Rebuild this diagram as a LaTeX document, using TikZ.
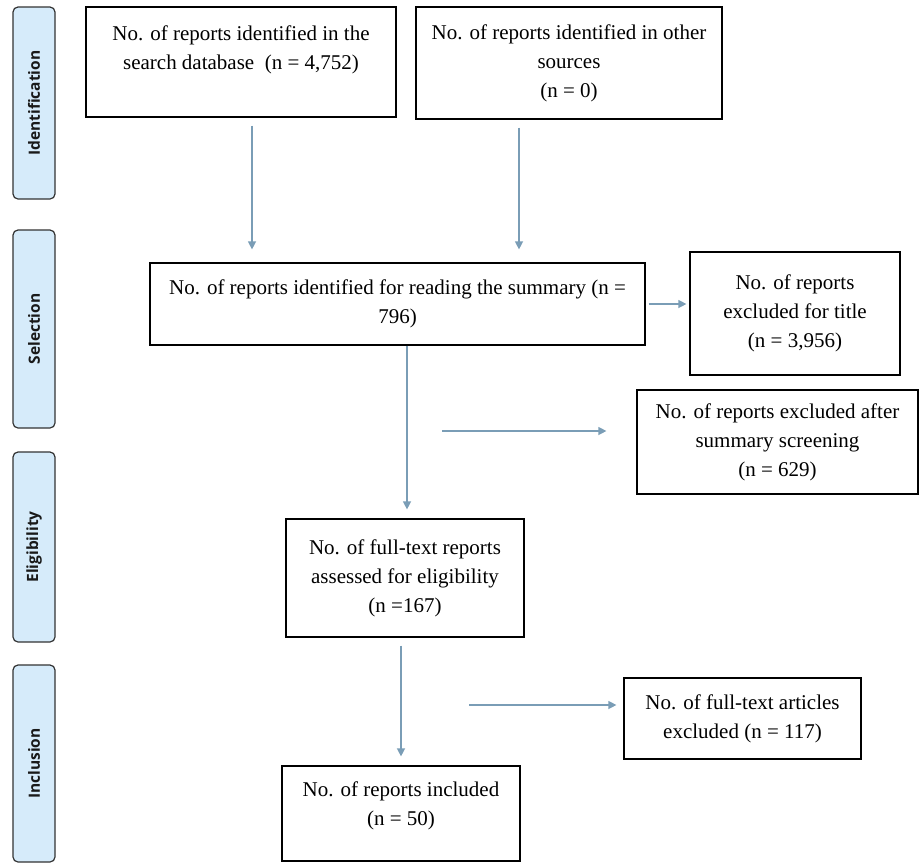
\documentclass[tikz,border=0pt]{standalone}
\usepackage{fontspec}
\setmainfont{Liberation Serif}
\newfontfamily\phasefont{Open Sans}
\usetikzlibrary{calc,arrows.meta}

\definecolor{phaseblue}{RGB}{214,235,250}
\definecolor{arrowgrey}{RGB}{122,157,182}

\begin{document}
\begin{tikzpicture}[x=1pt,y=-1pt,
  box/.style={draw=black,line width=1.2pt,align=center,inner sep=0pt,
              font=\fontsize{21}{29}\selectfont},
  phase/.style={draw=black!80,fill=phaseblue,rounded corners=5pt,line width=1.2pt,
                rotate=90,minimum height=42pt,inner sep=0pt,text=black!90,
                font=\phasefont\fontsize{15.5}{18}\selectfont\bfseries},
  arr/.style={draw=arrowgrey,line width=1.3pt,-{Triangle[width=8pt,length=8pt]}},
  ln/.style={draw=arrowgrey,line width=1.3pt}]
\useasboundingbox (0,0) rectangle (919,863);

% phases
\node[phase,minimum width=192pt] (pid) at (34,103) {Identification};
\node[phase,minimum width=198pt] (psel) at (34,329) {Selection};
\node[phase,minimum width=190pt] (pel) at (34,547) {Eligibility};
\node[phase,minimum width=197pt] (pin) at (34,763.5) {Inclusion};

% boxes
\node[box,minimum width=310pt,minimum height=110pt] (db) at (241,62)
  {No. of reports identified in the\\search database~~(n = 4,752)\\~};
\node[box,minimum width=306pt,minimum height=112pt] (other) at (569,63)
  {No. of reports identified in other\\sources\\(n = 0)};
\node[box,minimum width=495pt,minimum height=82pt] (summ) at (397.5,304)
  {No. of reports identified for reading the summary (n =\\796)};
\node[box,minimum width=210pt,minimum height=123pt] (extitle) at (795,313.5)
  {No. of reports\\excluded for title\\(n = 3,956)};
\node[box,minimum width=281pt,minimum height=104pt] (exsumm) at (777.5,442)
  {No. of reports excluded after\\summary screening\\(n = 629)};
\node[box,minimum width=238pt,minimum height=118pt] (full) at (405,578)
  {No. of full-text reports\\assessed for eligibility\\(n =167)};
\node[box,minimum width=237pt,minimum height=81pt] (exfull) at (742.5,718.5)
  {No. of full-text articles\\excluded (n = 117)};
\node[box,minimum width=238pt,minimum height=95pt] (incl) at (401,813.5)
  {No. of reports included\\(n = 50)\\[-10pt]~};

\coordinate (s1) at (442,431);
\coordinate (s2) at (469,705);

% connectors
\draw[arr,shorten <=8pt,shorten >=13pt] ([xshift=11pt]db.south) -- ([xshift=11pt]db.south |- summ.north);
\draw[arr,shorten <=8pt,shorten >=13pt] ([xshift=-50pt]other.south) -- ([xshift=-50pt]other.south |- summ.north);
\draw[arr,shorten <=3pt,shorten >=3pt] (summ.east) -- (summ.east -| extitle.west);
\draw[arr,shorten >=9pt] ([xshift=2pt]summ.south -| full.north) -- ([xshift=2pt]full.north);
\draw[arr,shorten >=30pt] (s1) -- (s1 -| exsumm.west);
\draw[arr,shorten <=8pt,shorten >=9pt] (full.south -| incl.north) -- (incl.north);
\draw[arr,shorten >=7pt] (s2) -- (s2 -| exfull.west);
\end{tikzpicture}
\end{document}
